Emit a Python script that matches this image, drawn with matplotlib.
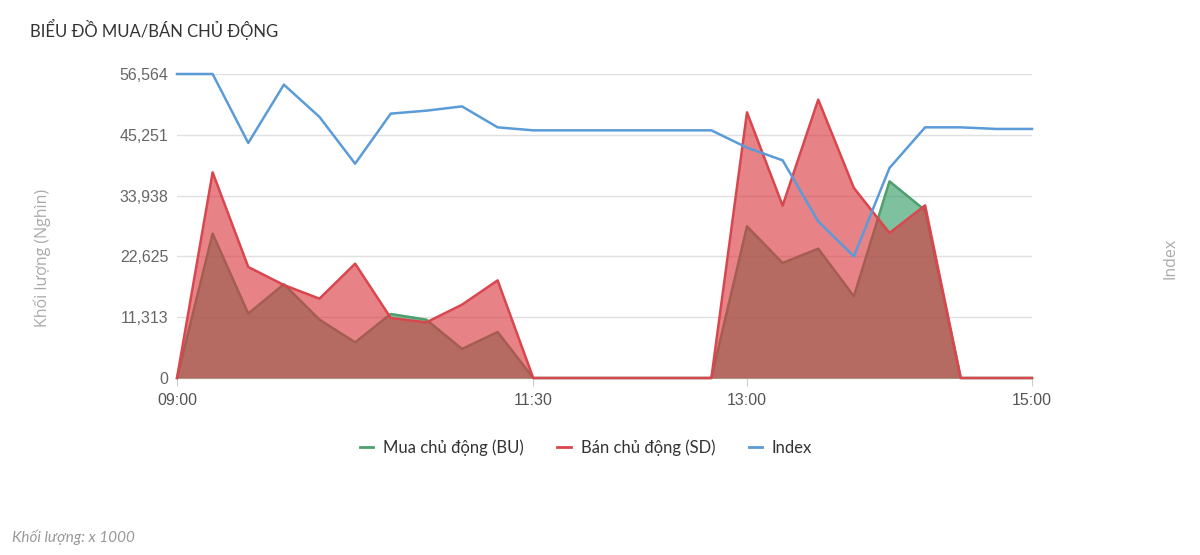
import matplotlib
matplotlib.use("Agg")
import matplotlib.pyplot as plt
import numpy as np

# ---- data ----
times = ["09:00", "09:15", "09:30", "09:45", "10:00", "10:15", "10:30", "10:45", "11:00", "11:15",
         "11:30", "11:45", "12:00", "12:15", "12:30", "12:45", "13:00", "13:15", "13:30", "13:45",
         "14:00", "14:15", "14:30", "14:45", "15:00"]
bu = [0, 26860, 11970, 17450, 10850, 6630, 11910, 10850, 5400, 8560,
      0, 0, 0, 0, 0, 0, 28210, 21400, 24060, 15190,
      36590, 31200, 0, 0, 0]
sd = [0, 38260, 20660, 17300, 14760, 21270, 11170, 10350, 13640, 18160,
      0, 0, 0, 0, 0, 0, 49430, 32070, 51790, 35360,
      26980, 32120, 0, 0, 0]
index_vals = [56564, 56564, 43730, 54580, 48570, 39880, 49190, 49740, 50540, 46640,
              46080, 46080, 46080, 46080, 46080, 46080, 42860, 40500, 29140, 22630,
              39080, 46640, 46640, 46340, 46340]
yticks = [0, 11313, 22625, 33938, 45251, 56564]
xtick_labels = ["09:00", "11:30", "13:00", "15:00"]

def to_min(t):
    h, m = t.split(":")
    return int(h) * 60 + int(m)

x = np.array([to_min(t) for t in times])
xt = [to_min(t) for t in xtick_labels]

fig = plt.figure(figsize=(12, 5.55), dpi=100)
ax = fig.add_axes([177/1200, 1-378/555, (1032-177)/1200, (378-74)/555])

green_line = "#4f9e6e"
green_fill = "#3aa06a"
red_line = "#d9464e"
red_fill = "#d9363e"
blue = "#5b9bd8"

ax.fill_between(x, bu, 0, color=green_fill, alpha=0.65, lw=0, zorder=2)
ax.plot(x, bu, color=green_line, lw=1.8, zorder=3, clip_on=False)
ax.fill_between(x, sd, 0, color=red_fill, alpha=0.62, lw=0, zorder=4)
ax.plot(x, sd, color=red_line, lw=1.8, zorder=5, clip_on=False)

ax2 = ax.twinx()
ax2.plot(x, index_vals, color=blue, lw=1.8, zorder=6, clip_on=False)
ax2.set_ylim(0, 56564)
ax2.set_yticks([])
for s in ax2.spines.values():
    s.set_visible(False)

ax.set_xlim(x[0], x[-1])
ax.set_ylim(0, 56564)
ax.set_yticks(yticks)
ax.set_yticklabels([f"{v:,}" for v in yticks], fontsize=11.5, color="#666666",
                   family=["Liberation Sans", "DejaVu Sans"])
ax.set_xticks(xt)
ax.set_xticklabels(xtick_labels, fontsize=11.5, color="#555555",
                   family=["Liberation Sans", "DejaVu Sans"])
ax.tick_params(axis="y", length=0, pad=6)
ax.tick_params(axis="x", length=6, color="#cccccc", pad=5)
ax.grid(axis="y", color="#e0e0e0", lw=1)
ax.set_axisbelow(True)
for k in ["top", "right", "left"]:
    ax.spines[k].set_visible(False)
ax.spines["bottom"].set_color("#cccccc")
ax.spines["bottom"].set_zorder(1)

fig.text(42/1200, 1-258/555, "Khối lượng (Nghìn)", rotation=90, ha="center", va="center",
         fontsize=11.5, color="#aaaaaa", family=["Open Sans", "DejaVu Sans"])
fig.text(1170/1200, 1-258/555, "Index", rotation=90, ha="center", va="center",
         fontsize=11.5, color="#aaaaaa", family=["Open Sans", "DejaVu Sans"])
fig.text(30/1200, 1-29/555, "BIỂU ĐỒ MUA/BÁN CHỦ ĐỘNG", ha="left", va="center",
         fontsize=12, color="#333333", family=["Lato", "Noto Sans", "DejaVu Sans"])
fig.text(12/1200, 1-537/555, "Khối lượng: x 1000", ha="left", va="center",
         fontsize=11, color="#999999", style="italic", family=["Lato", "Noto Sans", "DejaVu Sans"])

from matplotlib.lines import Line2D
handles = [Line2D([], [], color=green_line, lw=2),
           Line2D([], [], color=red_line, lw=2),
           Line2D([], [], color=blue, lw=2)]
labels = ["Mua chủ động (BU)", "Bán chủ động (SD)", "Index"]
leg = fig.legend(handles, labels, loc="center", bbox_to_anchor=(586/1200, 1-448/555), ncol=3,
                 frameon=False, handlelength=0.8, columnspacing=2.0, handletextpad=0.6,
                 prop={"family": ["Lato", "Noto Sans", "DejaVu Sans"], "size": 12})
for t in leg.get_texts():
    t.set_color("#333333")

fig.savefig("out.png", dpi=100)
